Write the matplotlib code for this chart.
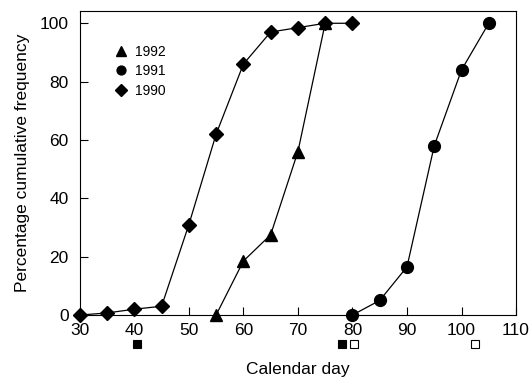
import matplotlib
matplotlib.use('Agg')
import matplotlib.pyplot as plt
import matplotlib.transforms as mtransforms

plt.rcParams['font.family'] = ['Liberation Sans', 'DejaVu Sans']

# data
days_1992 = [55, 60, 65, 70, 75]
freq_1992 = [0, 18.5, 27.5, 56, 100]

days_1991 = [80, 85, 90, 95, 100, 105]
freq_1991 = [0, 5, 16.5, 58, 84, 100]

days_1990 = [30, 35, 40, 45, 50, 55, 60, 65, 70, 75, 80]
freq_1990 = [0, 0.7, 2, 3, 31, 62, 86, 97, 98.5, 100, 100]

# marks under the x axis
filled_days = [40.5, 78]
open_days = [80.3, 102.5]

xticks = [30, 40, 50, 60, 70, 80, 90, 100, 110]
yticks = [0, 20, 40, 60, 80, 100]

fig = plt.figure(figsize=(5.32, 3.8), dpi=100)
ax = fig.add_axes([0.150, 0.171, 0.820, 0.800])

lw = 0.9
ax.plot(days_1992, freq_1992, '-^', c='k', lw=lw, ms=9, label='1992', clip_on=False, zorder=3)
ax.plot(days_1991, freq_1991, '-o', c='k', lw=lw, ms=8.5, label='1991', clip_on=False, zorder=3)
ax.plot(days_1990, freq_1990, '-D', c='k', lw=lw, ms=7.5, label='1990', clip_on=False, zorder=3)

ax.set_xlim(30, 110)
ax.set_ylim(0, 104.2)
ax.set_xticks(xticks)
ax.set_yticks(yticks)
ax.tick_params(direction='in', length=6, width=0.8, labelsize=12.5, pad=6)
ax.tick_params(axis='y', pad=8)
for s in ax.spines.values():
    s.set_linewidth(0.8)

trans = mtransforms.blended_transform_factory(ax.transData, ax.transAxes)
ax.plot(filled_days, [-0.095] * len(filled_days), 's', transform=trans, ms=5.5,
        mfc='k', mec='k', mew=0.8, clip_on=False, ls='none')
ax.plot(open_days, [-0.095] * len(open_days), 's', transform=trans, ms=5.5,
        mfc='white', mec='k', mew=0.8, clip_on=False, ls='none')

ax.set_xlabel('Calendar day', fontsize=12.5, labelpad=17)
ax.set_ylabel('Percentage cumulative frequency', fontsize=12.5, labelpad=7)

leg = ax.legend(loc='upper left', bbox_to_anchor=(0.05, 0.93), frameon=False,
                fontsize=10, markerscale=0.75, handlelength=1.0, handletextpad=0.5,
                labelspacing=0.4)
for h in leg.legend_handles:
    h.set_linestyle('none')

fig.savefig('out.png', dpi=100)
